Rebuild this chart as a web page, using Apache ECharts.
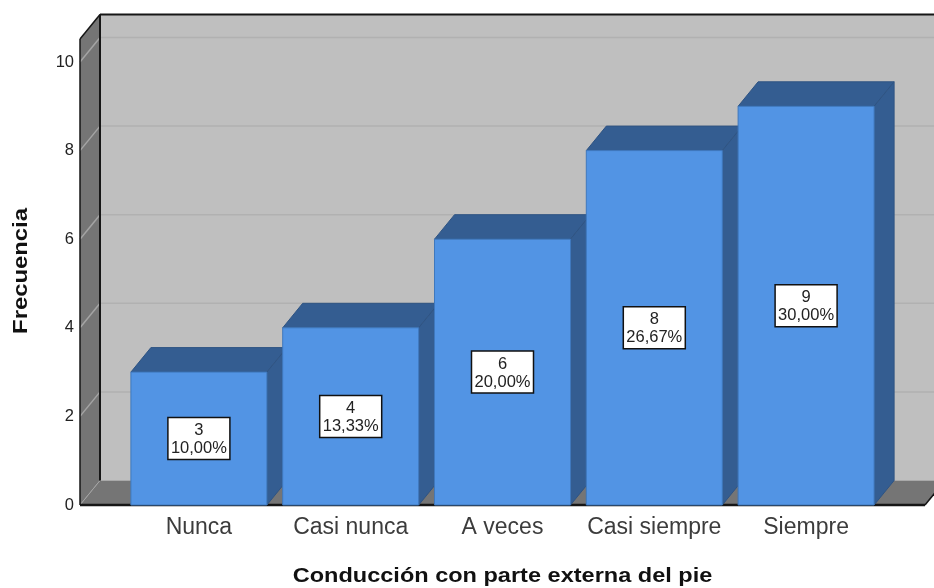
<!DOCTYPE html>
<html><head><meta charset="utf-8">
<style>html,body{margin:0;padding:0;background:#fff}#c{width:934px;height:588px}</style>
<script src="https://cdn.jsdelivr.net/npm/echarts@6/dist/echarts.min.js"></script>
</head><body><div id="c"></div>
<script>
const categories = ['Nunca','Casi nunca','A veces','Casi siempre','Siempre'];
const counts = [3,4,6,8,9];
const percents = ['10,00%','13,33%','20,00%','26,67%','30,00%'];
const gridTicks = [0,2,4,6,8,10];
const xAxisTitle = 'Conducción con parte externa del pie';
const yAxisTitle = 'Frecuencia';

const DX = 20, DY = 24.5, PAD = 43, BAR_W = 136, TOP_EXTRA = 23;
const C = {front:'#5294e4', dark:'#345d91', edge:'#2f5483', back:'#bfbfbf', wall:'#757575', line:'#161616', gridB:'#b1b1b1', gridS:'#a4a4a4'};
const chart = echarts.init(document.getElementById('c'), null, {renderer:'canvas'});
const poly = (points, fill, stroke, w) => ({type:'polygon', shape:{points}, style:{fill, stroke:stroke||null, lineWidth:w||0}});
const seg = (a, b, stroke, w) => ({type:'line', shape:{x1:a[0],y1:a[1],x2:b[0],y2:b[1]}, style:{stroke, lineWidth:w}});

function renderWalls(params, api){
  const cs = params.coordSys;
  const L = cs.x - PAD, R = cs.x + cs.width + PAD, B = cs.y + cs.height, T = cs.y - TOP_EXTRA;
  const ch = [
    poly([[L+DX,T-DY],[R+DX,T-DY],[R+DX,B-DY],[L+DX,B-DY]], C.back),
    poly([[L,T],[L+DX,T-DY],[L+DX,B-DY],[L,B]], C.wall),
    poly([[L,B],[L+DX,B-DY],[R+DX,B-DY],[R,B]], C.wall)
  ];
  gridTicks.forEach(v => {
    if(!v) return;
    const y = api.coord([0,v])[1];
    ch.push(seg([L,y],[L+DX,y-DY],C.gridS,1.5));
    ch.push(seg([L+DX,y-DY],[R+DX,y-DY],C.gridB,1.5));
  });
  ch.push(seg([L,B],[L+DX,B-DY],C.gridS,1));
  ch.push(seg([L+DX,T-DY],[R+DX,T-DY],C.line,2));
  ch.push(seg([L+DX,T-DY],[L+DX,B-DY],C.line,2));
  ch.push(seg([L,T],[L+DX,T-DY],C.line,1.5));
  ch.push(seg([L,T],[L,B],C.line,1.5));
  ch.push(seg([L,B],[R,B],C.line,2.5));
  ch.push(seg([R,B],[R+DX,B-DY],C.line,1.5));
  return {type:'group', children:ch};
}
function renderBar(params, api){
  const i = api.value(0), v = api.value(1);
  const top = api.coord([i,v]), base = api.coord([i,0]);
  const x0 = top[0]-BAR_W/2, x1 = top[0]+BAR_W/2, yT = top[1], yB = base[1];
  const my = (yT+yB)/2;
  return {type:'group', children:[
    poly([[x0,yT],[x0+DX,yT-DY],[x1+DX,yT-DY],[x1,yT]], C.dark, C.edge, 1),
    poly([[x1,yT],[x1+DX,yT-DY],[x1+DX,yB-DY],[x1,yB]], C.dark, C.edge, 1),
    poly([[x0,yT],[x1,yT],[x1,yB],[x0,yB]], C.front, '#3f78bd', 1),
    {type:'rect', shape:{x:top[0]-31,y:my-21,width:62,height:42}, style:{fill:'#fff',stroke:'#111',lineWidth:1.5}},
    {type:'text', x:top[0], y:my+1, style:{text:counts[i]+'\n'+percents[i], align:'center', verticalAlign:'middle', font:'16.5px "Liberation Sans"', lineHeight:18, fill:'#222'}}
  ]};
}
chart.setOption({
  animation:false,
  grid:{left:123, right:52, top:62, bottom:83, outerBoundsMode:'none'},
  xAxis:{type:'category', data:categories, axisLine:{show:false}, axisTick:{show:false},
    axisLabel:{interval:0, fontFamily:'Liberation Sans', fontSize:23, color:'#3c3c3c', margin:11}},
  yAxis:{type:'value', min:0, max:10, interval:2, splitLine:{show:false}, axisLine:{show:false}, axisTick:{show:false},
    axisLabel:{fontFamily:'Liberation Sans', fontSize:16.5, color:'#222', margin:49, padding:[3,0,0,0]}},
  graphic:[
    {type:'text', x:502.5, y:576, scaleX:1.12, z:5, style:{text:xAxisTitle, align:'center', verticalAlign:'middle', font:'bold 21px "Liberation Sans"', fill:'#111'}},
    {type:'text', x:21, y:271, rotation:Math.PI/2, scaleX:1.135, z:5, style:{text:yAxisTitle, align:'center', verticalAlign:'middle', font:'bold 21px "Liberation Sans"', fill:'#111'}}
  ],
  series:[
    {type:'custom', clip:false, silent:true, z:1, renderItem:renderWalls, data:[[0,0]], encode:{x:0,y:1}},
    {type:'custom', clip:false, silent:true, z:2, renderItem:renderBar, data:counts.map((v,i)=>[i,v]), encode:{x:0,y:1}}
  ]
});
</script></body></html>
